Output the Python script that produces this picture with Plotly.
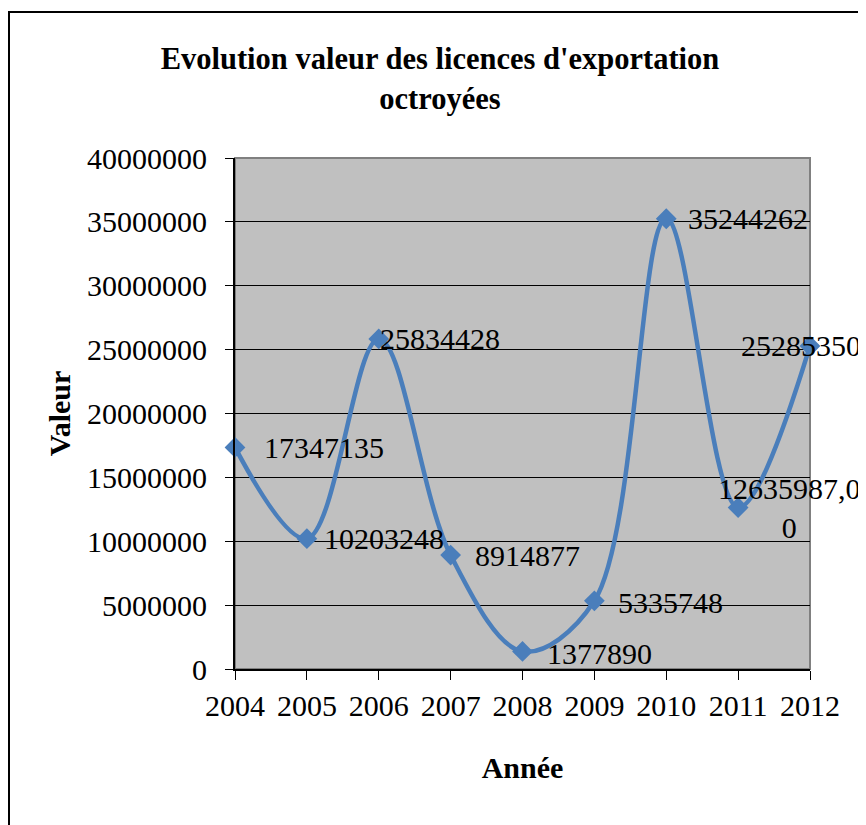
import plotly.graph_objects as go

annees = [2004, 2005, 2006, 2007, 2008, 2009, 2010, 2011, 2012]
valeurs = [17347135, 10203248, 25834428, 8914877, 1377890, 5335748, 35244262, 12635987, 25285350]
etiquettes = ["17347135", "10203248", "25834428", "8914877", "1377890",
              "5335748", "35244262", "12635987,0<br>0", "25285350"]

BLUE = "#4a7ebb"
FONT = "Liberation Serif, Times New Roman, serif"

# page body has an 8px margin, so the figure is sized/offset to compensate
W, H = 858, 817
L, T = 227, 150
PW, PH = 575, 511

fig = go.Figure(go.Scatter(
    x=annees, y=valeurs,
    mode="lines+markers",
    line=dict(color=BLUE, width=4.5, shape="spline", smoothing=1),
    marker=dict(symbol="diamond", size=16, color=BLUE),
    cliponaxis=False,
    hoverinfo="x+y",
))

# data labels: (xanchor, xshift, yshift)
placement = [("left", 27, 0), ("left", 15, 0), ("left", -1, 0), ("left", 22, 0),
             ("left", 22, -2), ("left", 22, -2), ("left", 20, 0),
             ("center", 51, 0), ("center", -9, 0)]
for a, v, t, (anc, dx, dy) in zip(annees, valeurs, etiquettes, placement):
    fig.add_annotation(x=a, y=v, text=t, showarrow=False, xanchor=anc, align="center",
                       xshift=dx, yshift=dy,
                       font=dict(family=FONT, size=30, color="black"))

# outer chart border
fig.add_shape(type="rect", xref="paper", yref="paper",
              x0=(1 - L) / PW, x1=(W + 20 - L) / PW,
              y0=(T + PH - H - 20) / PH, y1=(T + PH - 4) / PH,
              line=dict(color="black", width=2), fillcolor="rgba(0,0,0,0)", layer="below")
# plot area frame
fig.add_shape(type="rect", xref="paper", yref="paper", x0=0, x1=1, y0=0, y1=1,
              line=dict(color="#808080", width=2), fillcolor="#c0c0c0", layer="below")

fig.update_layout(
    width=W, height=H,
    margin=dict(l=L, r=W - L - PW, t=T, b=H - T - PH),
    paper_bgcolor="white",
    plot_bgcolor="#c0c0c0",
    showlegend=False,
    font=dict(family=FONT, color="black"),
    title=dict(
        text="<b>Evolution valeur des licences d'exportation<br>octroyées</b>",
        x=432 / W, xanchor="center", y=0.925, yanchor="top",
        font=dict(family=FONT, size=30.5, color="black"),
    ),
)

fig.update_xaxes(
    range=[2004, 2012], tickmode="array", tickvals=annees,
    ticks="outside", ticklen=9, tickcolor="black", tickwidth=1,
    showline=True, linecolor="black", linewidth=2,
    showgrid=False, zeroline=False,
    tickfont=dict(family=FONT, size=30),
    title=dict(text="<b>Année</b>", font=dict(family=FONT, size=30), standoff=36),
)
fig.update_yaxes(
    range=[0, 40000000], dtick=5000000, tickformat="d",
    ticks="outside", ticklen=8, tickcolor="black", tickwidth=1,
    showline=True, linecolor="black", linewidth=2,
    showgrid=True, gridcolor="black", gridwidth=1, zeroline=False,
    tickfont=dict(family=FONT, size=30), ticklabelstandoff=12,
    title=dict(text="<b>Valeur</b>", font=dict(family=FONT, size=30), standoff=8),
)

fig.write_html("out.html")
